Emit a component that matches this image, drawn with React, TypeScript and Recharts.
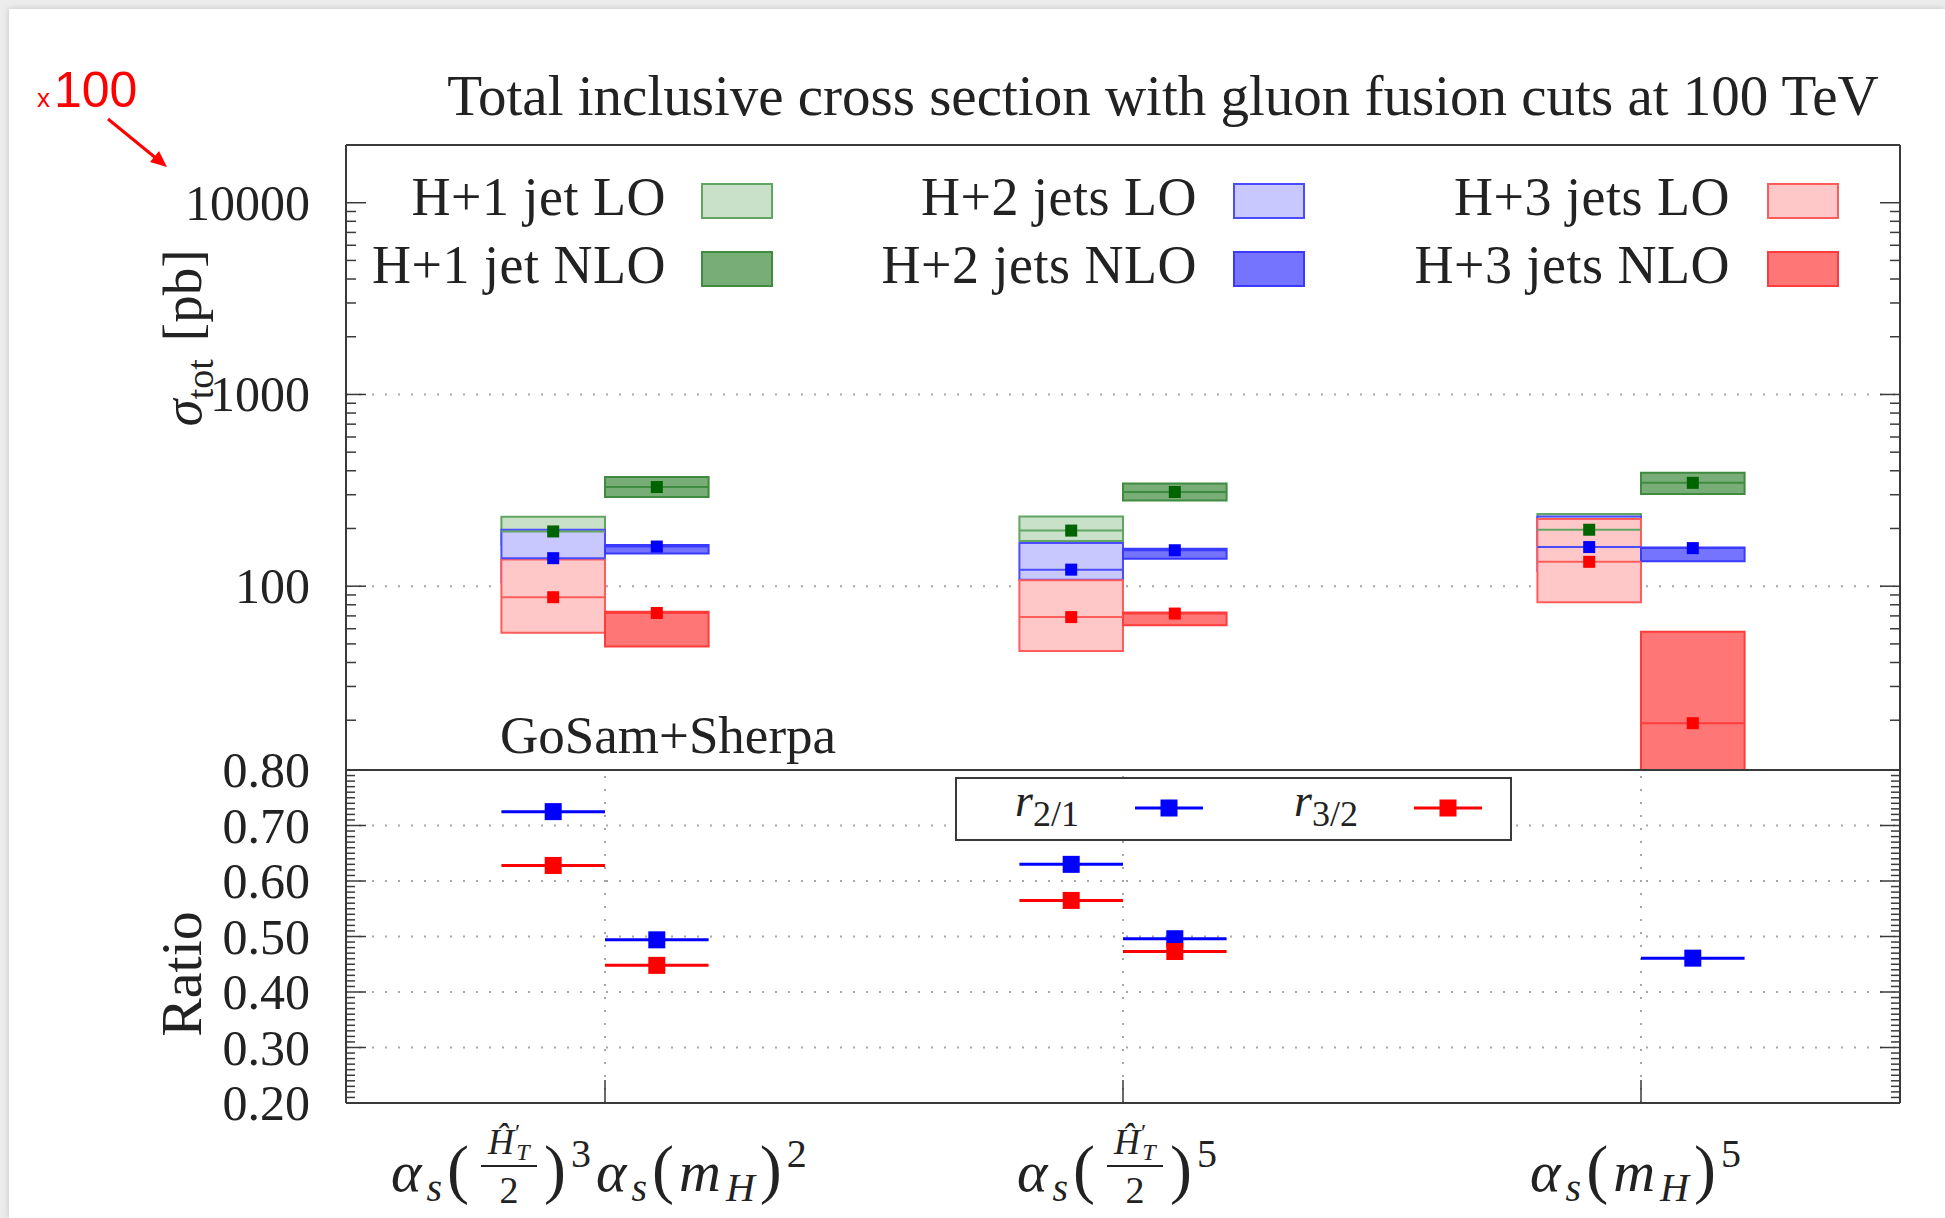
import React from "react";
import {
  ComposedChart,
  XAxis,
  YAxis,
  ReferenceArea,
  ReferenceLine,
  Scatter,
  ErrorBar,
  Legend,
} from "recharts";

const W = 1945;
const H = 1218;
const SERIF = "'Liberation Serif', 'DejaVu Serif', serif";
const SANS = "'Liberation Sans', Arial, sans-serif";
const INK = "#222222";
const FRAME = "#3a3a3a";
const GRID = "#a6a6a6";

// scale choices along the shared x axis (labels drawn as formulas below)
const scaleChoices = ["αs(H'T/2)^3 αs(mH)^2", "αs(H'T/2)^5", "αs(mH)^5"];
const categoryPos = [1, 2, 3];
const xDomain: [number, number] = [0.5, 3.5];
const boxWidth = 0.2; // LO box left of the category, NLO box right of it

// sigma_tot [pb]: central value and scale band per scale choice
const h1LoCentral = [193, 195, 197];
const h1LoLow = [165, 172, 165];
const h1LoHigh = [230, 231, 238];
const h1NloCentral = [329, 310, 346];
const h1NloLow = [292, 280, 303];
const h1NloHigh = [371, 343, 390];

const h2LoCentral = [140, 122, 160];
const h2LoLow = [105, 108, 120];
const h2LoHigh = [197, 168, 231];
const h2NloCentral = [161, 154, 158];
const h2NloLow = [148, 139, 135];
const h2NloHigh = [164, 157, 159];

const h3LoCentral = [87.6, 69, 134];
const h3LoLow = [57.2, 45.9, 82.5];
const h3LoHigh = [137.7, 107.5, 224];
const h3NloCentral = [72.5, 72, 19.3];
const h3NloLow = [48.4, 62.6, 8];
const h3NloHigh = [73.5, 73, 57.9];

// ratios of successive jet multiplicities
const r21Lo = [0.725, 0.63, null];
const r21Nlo = [0.494, 0.496, 0.461];
const r32Lo = [0.628, 0.565, null];
const r32Nlo = [0.448, 0.473, null];

const sigmaDomain: [number, number] = [11, 20000];
const sigmaMajor = [100, 1000, 10000];
const sigmaTicks = [10, 100, 1000, 10000]
  .flatMap((d) => [1, 2, 3, 4, 5, 6, 7, 8, 9].map((m) => d * m))
  .filter((v) => v > sigmaDomain[0] && v < sigmaDomain[1]);
const sigmaGrid = [100, 1000];

const ratioDomain: [number, number] = [0.2, 0.8];
const ratioMajor = [0.2, 0.3, 0.4, 0.5, 0.6, 0.7, 0.8];
const ratioTicks = Array.from({ length: 61 }, (_, i) => Math.round(20 + i) / 100);
const ratioGrid = [0.3, 0.4, 0.5, 0.6, 0.7];

type Band = {
  label: string;
  nlo: boolean;
  central: number[];
  low: number[];
  high: number[];
  fill: string;
  edge: string;
  dot: string;
};

const bands: Band[] = [
  { label: "H+1 jet LO", nlo: false, central: h1LoCentral, low: h1LoLow, high: h1LoHigh, fill: "#c9e1c9", edge: "#62a462", dot: "#006400" },
  { label: "H+2 jets LO", nlo: false, central: h2LoCentral, low: h2LoLow, high: h2LoHigh, fill: "#c8c8ff", edge: "#4c4cff", dot: "#0000ff" },
  { label: "H+3 jets LO", nlo: false, central: h3LoCentral, low: h3LoLow, high: h3LoHigh, fill: "#ffc8c8", edge: "#ff5c5c", dot: "#ff0000" },
  { label: "H+1 jet NLO", nlo: true, central: h1NloCentral, low: h1NloLow, high: h1NloHigh, fill: "#78ad78", edge: "#3f8b3f", dot: "#006400" },
  { label: "H+2 jets NLO", nlo: true, central: h2NloCentral, low: h2NloLow, high: h2NloHigh, fill: "#7474ff", edge: "#3a3aff", dot: "#0000ff" },
  { label: "H+3 jets NLO", nlo: true, central: h3NloCentral, low: h3NloLow, high: h3NloHigh, fill: "#ff7676", edge: "#ff3c3c", dot: "#ff0000" },
];

const ratioSeries = [
  { name: "r21 LO", values: r21Lo, nlo: false, color: "#0000ff" },
  { name: "r21 NLO", values: r21Nlo, nlo: true, color: "#0000ff" },
  { name: "r32 LO", values: r32Lo, nlo: false, color: "#ff0000" },
  { name: "r32 NLO", values: r32Nlo, nlo: true, color: "#ff0000" },
];

const frameLine = { stroke: FRAME, strokeWidth: 2 };
const isMajor = (majors: number[], v: number) => majors.some((m) => Math.abs(m - v) < 1e-9);

// inward tick marks, labels only on the left
function sideTick(side: "left" | "right", majors: number[], majorLen: number, minorLen: number, fmt?: (v: number) => string) {
  return (props: any) => {
    const { x, y, payload } = props;
    const v = payload.value as number;
    const major = isMajor(majors, v);
    const dir = side === "left" ? 1 : -1;
    return (
      <g>
        <line x1={x} x2={x + dir * (major ? majorLen : minorLen)} y1={y} y2={y} stroke={FRAME} strokeWidth={1.5} />
        {fmt && major && (
          <text x={x - 36} y={y} dy={17} textAnchor="end" fontFamily={SERIF} fontSize={50} fill={INK}>
            {fmt(v)}
          </text>
        )}
      </g>
    );
  };
}

const MAIN = 58;
const SUB = 40;
const PAREN = 66;

const alphaS = (
  <>
    <tspan fontStyle="italic" fontSize={MAIN}>α</tspan>
    <tspan fontStyle="italic" fontSize={SUB} dy={10}>s</tspan>
    <tspan fontSize={PAREN} dy={-10}>(</tspan>
  </>
);

// H'_T / 2, stacked; fb is the fraction bar's y
function HalfHT({ cx, fb }: { cx: number; fb: number }) {
  return (
    <g fontFamily={SERIF} fill={INK}>
      <text x={cx - 5} y={fb - 12} textAnchor="middle" fontSize={36}>
        <tspan fontStyle="italic">Ĥ</tspan>
        <tspan fontSize={24} dx={1} dy={-14}>′</tspan>
      </text>
      <text x={cx + 14} y={fb - 6} textAnchor="middle" fontSize={24} fontStyle="italic">T</text>
      <line x1={cx - 28} x2={cx + 28} y1={fb} y2={fb} stroke={INK} strokeWidth={2} />
      <text x={cx} y={fb + 37} textAnchor="middle" fontSize={38}>2</text>
    </g>
  );
}

function ScaleLabel({ index, tx, y }: { index: number; tx: number; y: number }) {
  const common = { fontFamily: SERIF, fill: INK, letterSpacing: 5 };
  const by = y + 88; // main baseline
  const fb = y + 63; // fraction bar
  if (index === 0) {
    const fc = tx - 96;
    return (
      <g>
        <text x={fc - 35} y={by} textAnchor="end" {...common}>{alphaS}</text>
        <HalfHT cx={fc} fb={fb} />
        <text x={fc + 35} y={by} {...common}>
          <tspan fontSize={PAREN}>)</tspan>
          <tspan fontSize={SUB} dy={-24}>3</tspan>
          <tspan fontStyle="italic" fontSize={MAIN} dy={24}>α</tspan>
          <tspan fontStyle="italic" fontSize={SUB} dy={10}>s</tspan>
          <tspan fontSize={PAREN} dy={-10}>(</tspan>
          <tspan fontStyle="italic" fontSize={MAIN}>m</tspan>
          <tspan fontStyle="italic" fontSize={SUB} dy={10}>H</tspan>
          <tspan fontSize={PAREN} dy={-10}>)</tspan>
          <tspan fontSize={SUB} dy={-24}>2</tspan>
        </text>
      </g>
    );
  }
  if (index === 1) {
    const fc = tx + 12;
    return (
      <g>
        <text x={fc - 35} y={by} textAnchor="end" {...common}>{alphaS}</text>
        <HalfHT cx={fc} fb={fb} />
        <text x={fc + 35} y={by} {...common}>
          <tspan fontSize={PAREN}>)</tspan>
          <tspan fontSize={SUB} dy={-24}>5</tspan>
        </text>
      </g>
    );
  }
  return (
    <text x={tx - 3} y={by} textAnchor="middle" {...common}>
      {alphaS}
      <tspan fontStyle="italic" fontSize={MAIN}>m</tspan>
      <tspan fontStyle="italic" fontSize={SUB} dy={10}>H</tspan>
      <tspan fontSize={PAREN} dy={-10}>)</tspan>
      <tspan fontSize={SUB} dy={-24}>5</tspan>
    </text>
  );
}

const renderScaleTick = (props: any) => {
  const { x, y, payload } = props;
  const index = categoryPos.indexOf(payload.value);
  return (
    <g>
      <line x1={x} x2={x} y1={y} y2={y - 23} stroke={FRAME} strokeWidth={1.5} />
      <ScaleLabel index={index} tx={x} y={y} />
    </g>
  );
};

const renderTopTick = (props: any) => {
  const { x, y } = props;
  return <line x1={x} x2={x} y1={y} y2={y + 23} stroke={FRAME} strokeWidth={1.5} />;
};

function SigmaKey() {
  const cols = [
    { textX: 666, swatchX: 702 },
    { textX: 1197, swatchX: 1234 },
    { textX: 1730, swatchX: 1768 },
  ];
  return (
    <svg width={W} height={320} style={{ overflow: "visible", display: "block" }}>
      {bands.map((b, i) => {
        const col = cols[i % 3];
        const rowY = b.nlo ? 283 : 215;
        return (
          <g key={b.label}>
            <text x={col.textX} y={rowY} textAnchor="end" fontFamily={SERIF} fontSize={54} letterSpacing={0.5} fill={INK}>
              {b.label}
            </text>
            <rect x={col.swatchX} y={rowY - 31} width={70} height={34} fill={b.fill} stroke={b.edge} strokeWidth={2} />
          </g>
        );
      })}
    </svg>
  );
}

function RatioKey() {
  const entries = [
    { sub: "2/1", color: "#0000ff", textX: 1015, lineX: 1135 },
    { sub: "3/2", color: "#ff0000", textX: 1294, lineX: 1414 },
  ];
  return (
    <svg width={W} height={900} style={{ overflow: "visible", display: "block" }}>
      <rect x={956} y={778} width={555} height={62} fill="#ffffff" stroke={FRAME} strokeWidth={2} />
      {entries.map((e) => (
        <g key={e.sub}>
          <text x={e.textX} y={816} fontFamily={SERIF} fill={INK}>
            <tspan fontStyle="italic" fontSize={46}>r</tspan>
            <tspan fontSize={36} dy={10}>{e.sub}</tspan>
          </text>
          <line x1={e.lineX} x2={e.lineX + 68} y1={808} y2={808} stroke={e.color} strokeWidth={3} />
          <rect x={e.lineX + 34 - 8.5} y={808 - 8.5} width={17} height={17} fill={e.color} />
        </g>
      ))}
    </svg>
  );
}

// plot area of both panels: x 346..1900; upper y 145..770, ratio y 770..1103
function CrossSectionPanel() {
  return (
    <ComposedChart width={W} height={790} margin={{ top: 135, right: 5, bottom: 20, left: 286 }}>
      <XAxis
        dataKey="x"
        type="number"
        domain={xDomain}
        orientation="top"
        height={10}
        tick={false}
        tickLine={false}
        axisLine={frameLine}
        allowDataOverflow
      />
      <YAxis
        dataKey="y"
        type="number"
        scale="log"
        domain={sigmaDomain}
        allowDataOverflow
        ticks={sigmaTicks}
        interval={0}
        width={60}
        tickSize={0}
        tickMargin={0}
        tickLine={false}
        tick={sideTick("left", sigmaMajor, 20, 10, (v) => String(v))}
        axisLine={frameLine}
      />
      <YAxis
        yAxisId="right"
        orientation="right"
        type="number"
        scale="log"
        domain={sigmaDomain}
        allowDataOverflow
        ticks={sigmaTicks}
        interval={0}
        width={40}
        tickSize={0}
        tickMargin={0}
        tickLine={false}
        tick={sideTick("right", sigmaMajor, 20, 10)}
        axisLine={frameLine}
      />
      {sigmaGrid.map((v) => (
        <ReferenceLine key={`g${v}`} y={v} stroke={GRID} strokeWidth={2} strokeDasharray="2 11" zIndex={-50} />
      ))}
      {bands.flatMap((b, bi) =>
        categoryPos.map((c, i) => (
          <ReferenceArea
            key={`box-${bi}-${i}`}
            x1={b.nlo ? c : c - boxWidth}
            x2={b.nlo ? c + boxWidth : c}
            y1={b.low[i]}
            y2={b.high[i]}
            fill={b.fill}
            fillOpacity={1}
            stroke={b.edge}
            strokeWidth={2}
            ifOverflow="hidden"
          />
        ))
      )}
      {bands.flatMap((b, bi) =>
        categoryPos.map((c, i) => (
          <ReferenceLine
            key={`mid-${bi}-${i}`}
            segment={[
              { x: b.nlo ? c : c - boxWidth, y: b.central[i] },
              { x: b.nlo ? c + boxWidth : c, y: b.central[i] },
            ]}
            stroke={b.edge}
            strokeWidth={2}
            ifOverflow="hidden"
          />
        ))
      )}
      {bands.map((b) => (
        <Scatter
          key={`pt-${b.label}`}
          name={b.label}
          data={categoryPos.map((c, i) => ({ x: b.nlo ? c + boxWidth / 2 : c - boxWidth / 2, y: b.central[i] }))}
          fill={b.dot}
          isAnimationActive={false}
          shape={(p: any) => <rect x={p.cx - 6} y={p.cy - 6} width={12} height={12} fill={b.dot} />}
        />
      ))}
      <Legend
        layout="horizontal"
        verticalAlign="middle"
        align="center"
        wrapperStyle={{ left: 0, top: 0, width: W, height: 320, pointerEvents: "none" }}
        content={() => <SigmaKey />}
      />
    </ComposedChart>
  );
}

function RatioPanel() {
  return (
    <ComposedChart width={W} height={H} margin={{ top: 760, right: 5, bottom: 15, left: 286 }}>
      <XAxis
        dataKey="x"
        type="number"
        domain={xDomain}
        ticks={categoryPos}
        interval={0}
        height={100}
        tickSize={0}
        tickMargin={0}
        tickLine={false}
        tick={renderScaleTick}
        axisLine={frameLine}
        allowDataOverflow
      />
      <XAxis
        xAxisId="top"
        orientation="top"
        type="number"
        domain={xDomain}
        ticks={categoryPos}
        interval={0}
        height={10}
        tickSize={0}
        tickMargin={0}
        tickLine={false}
        tick={renderTopTick}
        axisLine={frameLine}
        allowDataOverflow
      />
      <YAxis
        dataKey="y"
        type="number"
        domain={ratioDomain}
        allowDataOverflow
        ticks={ratioTicks}
        interval={0}
        width={60}
        tickSize={0}
        tickMargin={0}
        tickLine={false}
        tick={sideTick("left", ratioMajor, 20, 9, (v) => v.toFixed(2))}
        axisLine={frameLine}
      />
      <YAxis
        yAxisId="right"
        orientation="right"
        type="number"
        domain={ratioDomain}
        allowDataOverflow
        ticks={ratioTicks}
        interval={0}
        width={40}
        tickSize={0}
        tickMargin={0}
        tickLine={false}
        tick={sideTick("right", ratioMajor, 20, 9)}
        axisLine={frameLine}
      />
      {ratioGrid.map((v) => (
        <ReferenceLine key={`rg${v}`} y={v} stroke={GRID} strokeWidth={2} strokeDasharray="2 11" zIndex={-50} />
      ))}
      {categoryPos.map((c) => (
        <ReferenceLine key={`rv${c}`} x={c} stroke={GRID} strokeWidth={2} strokeDasharray="2 11" zIndex={-50} />
      ))}
      {ratioSeries.map((s) => (
        <Scatter
          key={s.name}
          name={s.name}
          data={categoryPos
            .map((c, i) => ({ x: s.nlo ? c + boxWidth / 2 : c - boxWidth / 2, y: s.values[i], ex: boxWidth / 2 }))
            .filter((d) => d.y !== null)}
          fill={s.color}
          isAnimationActive={false}
          shape={(p: any) => <rect x={p.cx - 8.5} y={p.cy - 8.5} width={17} height={17} fill={s.color} />}
        >
          <ErrorBar dataKey="ex" direction="x" width={0} stroke={s.color} strokeWidth={3} isAnimationActive={false} />
        </Scatter>
      ))}
      <Legend
        layout="horizontal"
        verticalAlign="middle"
        align="center"
        wrapperStyle={{ left: 0, top: 0, width: W, height: 900, pointerEvents: "none" }}
        content={() => <RatioKey />}
      />
    </ComposedChart>
  );
}

function Annotations() {
  return (
    <svg width={W} height={H} style={{ position: "absolute", left: 0, top: 0, pointerEvents: "none" }}>
      <text x={1163} y={115} textAnchor="middle" fontFamily={SERIF} fontSize={57} fill={INK}>
        Total inclusive cross section with gluon fusion cuts at 100 TeV
      </text>
      <g transform="translate(201, 338) rotate(-90)">
        <text textAnchor="middle" fontFamily={SERIF} fontSize={55} fill={INK}>
          <tspan fontStyle="italic">σ</tspan>
          <tspan fontSize={38} dy={12}>tot</tspan>
          <tspan dy={-12} dx={18}>[pb]</tspan>
        </text>
      </g>
      <g transform="translate(201, 974) rotate(-90)">
        <text textAnchor="middle" fontFamily={SERIF} fontSize={58} fill={INK}>Ratio</text>
      </g>
      <text x={500} y={753} fontFamily={SERIF} fontSize={53} fill={INK}>GoSam+Sherpa</text>
      <text x={37} y={107} fontFamily={SANS} fontSize={26} fill="#ff0000">x</text>
      <text x={54} y={107} fontFamily={SANS} fontSize={50} fill="#ff0000">100</text>
      <line x1={108} y1={119} x2={157} y2={159} stroke="#ff0000" strokeWidth={3} />
      <polygon points="167,167 150,162 159,151" fill="#ff0000" />
    </svg>
  );
}

export default function App() {
  return (
    <div style={{ position: "absolute", left: 0, top: 0, width: W, height: H, background: "#ececec", overflow: "hidden" }}>
      <div
        style={{
          position: "absolute",
          left: 9,
          top: 9,
          width: W - 9,
          height: H - 9,
          background: "#ffffff",
          boxShadow: "0 0 6px rgba(0,0,0,0.18)",
        }}
      />
      <div style={{ position: "absolute", left: 0, top: 0 }}>
        <CrossSectionPanel />
      </div>
      <div style={{ position: "absolute", left: 0, top: 0 }}>
        <RatioPanel />
      </div>
      <Annotations />
    </div>
  );
}
